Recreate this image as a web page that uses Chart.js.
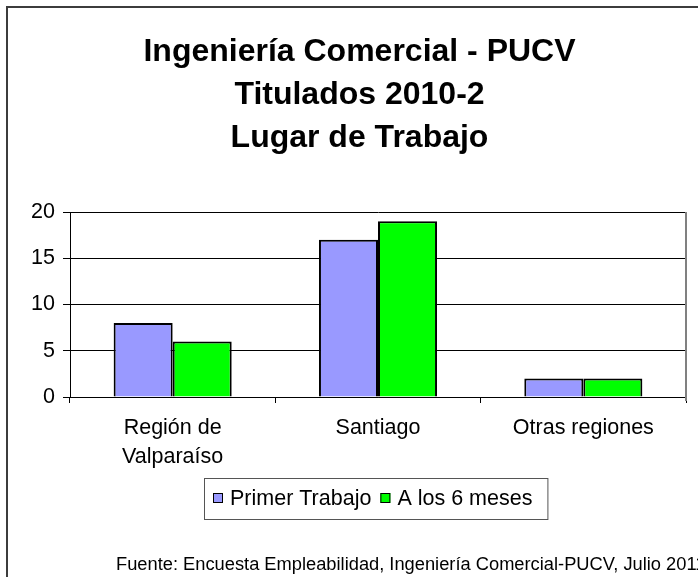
<!DOCTYPE html>
<html>
<head>
<meta charset="utf-8">
<script src="https://cdn.jsdelivr.net/npm/chart.js@4/dist/chart.umd.min.js"></script>
<style>
  html, body { margin: 0; padding: 0; background: #ffffff; overflow: hidden; }
  #wrap { position: absolute; left: 0; top: 0; width: 698px; height: 577px; }
</style>
</head>
<body>
<div id="wrap"><canvas id="c" width="698" height="577"></canvas></div>
<script>
// ---- data ----
const titleLines = ["Ingeniería Comercial - PUCV", "Titulados 2010-2", "Lugar de Trabajo"];
const categories = [["Región de", "Valparaíso"], "Santiago", "Otras regiones"];
const seriesNames = ["Primer Trabajo", "A los 6 meses"];
const primerTrabajo = [8, 17, 2];
const aLos6Meses = [6, 19, 2];
const yTicks = [0, 5, 10, 15, 20];
const footnote = "Fuente: Encuesta Empleabilidad, Ingeniería Comercial-PUCV, Julio 2011";

const FONT = "Arial, 'Liberation Sans', sans-serif";

const decorPlugin = {
  id: 'decor',
  beforeDraw(chart) {
    const ctx = chart.ctx;
    ctx.save();
    ctx.fillStyle = '#ffffff';
    ctx.fillRect(0, 0, chart.width, chart.height);
    // outer frame (left and top visible)
    ctx.strokeStyle = '#3c3c3c';
    ctx.lineWidth = 2;
    ctx.beginPath();
    ctx.moveTo(7, chart.height + 2);
    ctx.lineTo(7, 7);
    ctx.lineTo(chart.width + 2, 7);
    ctx.stroke();
    ctx.restore();
  },
  afterDraw(chart) {
    const ctx = chart.ctx;
    const ca = chart.chartArea;
    ctx.save();
    // plot area right border
    ctx.strokeStyle = '#808080';
    ctx.lineWidth = 2;
    ctx.beginPath();
    ctx.moveTo(ca.right, ca.top);
    ctx.lineTo(ca.right, ca.bottom + 4);
    ctx.stroke();

    // title
    ctx.fillStyle = '#000';
    ctx.font = "bold 32px " + FONT;
    ctx.textAlign = 'center';
    ctx.textBaseline = 'alphabetic';
    const baselines = [61, 104, 147];
    titleLines.forEach((t, i) => ctx.fillText(t, 359.5, baselines[i]));

    // legend
    ctx.font = "21.5px " + FONT;
    ctx.textAlign = 'left';
    const ds = chart.data.datasets;
    const padL = 9, mk = 10, gapMk = 7, gapItem = 9, padR = 15;
    let w = padL;
    const widths = ds.map(d => ctx.measureText(d.label).width);
    widths.forEach((tw, i) => { w += mk + gapMk + tw + (i < ds.length - 1 ? gapItem : 0); });
    w += padR;
    const boxX = Math.round(375.5 - w / 2), boxY = 478, boxH = 41;
    ctx.strokeStyle = '#555';
    ctx.lineWidth = 1;
    ctx.strokeRect(boxX + 0.5, boxY + 0.5, w, boxH);
    let x = boxX + padL;
    ds.forEach((d, i) => {
      ctx.fillStyle = d.backgroundColor;
      ctx.fillRect(x, 493, mk, mk);
      ctx.strokeStyle = '#000';
      ctx.lineWidth = 1;
      ctx.strokeRect(x + 0.5, 493.5, mk - 1, mk - 1);
      x += mk + gapMk;
      ctx.fillStyle = '#000';
      ctx.fillText(d.label, x, 505);
      x += widths[i] + gapItem;
    });

    // footnote
    ctx.font = "18.3px " + FONT;
    ctx.fillStyle = '#000';
    ctx.textAlign = 'left';
    ctx.fillText(footnote, 116, 570);
    ctx.restore();
  }
};

new Chart(document.getElementById('c'), {
  type: 'bar',
  data: {
    labels: categories,
    datasets: [
      { label: seriesNames[0], data: primerTrabajo, backgroundColor: '#9999ff', borderColor: '#000', borderWidth: 2 },
      { label: seriesNames[1], data: aLos6Meses, backgroundColor: '#00ff00', borderColor: '#000', borderWidth: 2 }
    ]
  },
  options: {
    responsive: false,
    animation: false,
    devicePixelRatio: 1,
    layout: { padding: { top: 212, left: 0, right: 12, bottom: 100 } },
    datasets: { bar: { categoryPercentage: 0.575, barPercentage: 1.0 } },
    plugins: { legend: { display: false }, title: { display: false }, tooltip: { enabled: false } },
    scales: {
      x: {
        afterFit(s) { s.height = 80; },
        grid: { offset: true, drawOnChartArea: false, drawTicks: true, tickLength: 6, color: '#000' },
        border: { display: true, color: '#000', width: 1 },
        ticks: { color: '#000', font: { family: FONT, size: 21.5, lineHeight: 1.37 }, padding: 10, maxRotation: 0, autoSkip: false }
      },
      y: {
        min: 0, max: 20,
        afterFit(s) { s.width = 70; },
        afterBuildTicks(s) { s.ticks = yTicks.map(v => ({ value: v })); },
        grid: { color: '#000', lineWidth: 1, drawTicks: true, tickLength: 7 },
        border: { display: true, color: '#000', width: 1 },
        ticks: { color: '#000', font: { family: FONT, size: 21.5 }, padding: 8 }
      }
    }
  },
  plugins: [decorPlugin]
});
</script>
</body>
</html>
